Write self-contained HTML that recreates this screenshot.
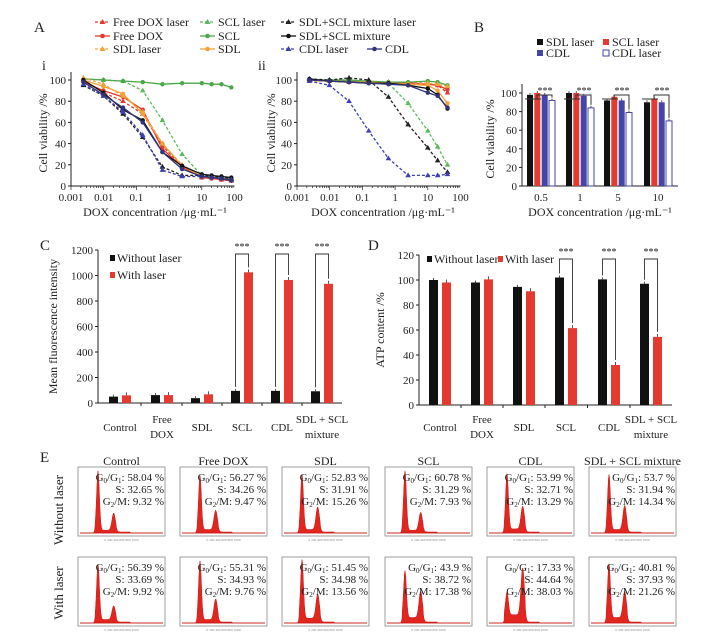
<!DOCTYPE html>
<html><head><meta charset="utf-8">
<style>
html,body{margin:0;padding:0;background:#fff;}
svg{display:block;font-family:"Liberation Serif",serif;}
</style></head>
<body>
<svg id="fig" width="708" height="644" viewBox="0 0 708 644" xmlns="http://www.w3.org/2000/svg"></svg>
<script>
// ---------- Panel A data ----------
const concI = [0.0024,0.0098,0.039,0.156,0.625,2.5,10,20,40,80];
const concII = [0.0024,0.0098,0.039,0.156,0.625,2.5,10,20,40];
const seriesNames = ["Free DOX laser","Free DOX","SCL laser","SCL","SDL laser","SDL","SDL+SCL mixture laser","SDL+SCL mixture","CDL laser","CDL"];
const seriesColors = ["#e53a30","#e53a30","#5cb85c","#4aa84a","#f2a23a","#f2a23a","#222","#111","#3f3fb5","#33337a"];
const seriesDashed = [true,false,true,false,true,false,true,false,true,false];
const viabI_freeDoxLaser = [100,88,80,68,38,18,8,8,6,5];
const viabI_freeDox = [98,90,84,72,35,18,8,7,6,5];
const viabI_sclLaser = [101,100,99,90,62,30,10,9,8,7];
const viabI_scl = [101,100,99,98,96,97,97,96,96,93];
const viabI_sdlLaser = [102,96,85,70,40,20,9,8,7,6];
const viabI_sdl = [100,94,87,68,40,19,9,8,7,6];
const viabI_mixLaser = [95,85,68,46,18,10,10,9,8,7];
const viabI_mix = [100,88,72,62,32,19,11,10,9,8];
const viabI_cdlLaser = [96,85,70,48,15,9,9,8,7,6];
const viabI_cdl = [98,86,74,60,32,16,9,8,7,5];
const viabII_freeDoxLaser = [100,99,98,98,98,97,97,95,88];
const viabII_freeDox = [100,99,99,98,98,97,96,95,91];
const viabII_sclLaser = [101,99,99,98,97,78,52,37,20];
const viabII_scl = [100,100,100,99,98,98,99,98,95];
const viabII_sdlLaser = [99,99,98,98,97,96,97,96,94];
const viabII_sdl = [100,99,98,98,97,96,95,90,78];
const viabII_mixLaser = [101,100,102,100,84,58,36,24,13];
const viabII_mix = [101,99,98,97,97,95,92,86,73];
const viabII_cdlLaser = [99,95,80,52,26,10,10,10,11];
const viabII_cdl = [100,99,98,97,96,95,88,85,74];
const logTicks = [0.001,0.01,0.1,1,10,100];
const logTickLabels = ["0.001","0.01","0.1","1","10","100"];
const viabTicks = [0,20,40,60,80,100];
// ---------- Panel B data ----------
const bCategories = ["0.5","1","5","10"];
const bNames = ["SDL laser","SCL laser","CDL","CDL laser"];
const bSdlLaser = [98,100,92,90];
const bSclLaser = [100,100,96,94];
const bCdl = [98,97,92,90];
const bCdlLaser = [92,84,79,70];
// ---------- Panel C data ----------
const groupLabels = [["Control"],["Free","DOX"],["SDL"],["SCL"],["CDL"],["SDL + SCL","mixture"]];
const cWithout = [50,62,38,95,95,92];
const cWith = [60,62,68,1025,965,935];
const cTicks = [0,200,400,600,800,1000,1200];
const cSig = [3,4,5];
// ---------- Panel D data ----------
const dWithout = [100,98,94.5,102,100.5,97];
const dWith = [98,100.5,91,61.5,32,54.5];
const dTicks = [0,20,40,60,80,100,120];
const dSig = [3,4,5];
// ---------- Panel E data ----------
const eTitles = ["Control","Free DOX","SDL","SCL","CDL","SDL + SCL mixture"];
const eG1Row1 = ["58.04","56.27","52.83","60.78","53.99","53.7"];
const eSRow1 = ["32.65","34.26","31.91","31.29","32.71","31.94"];
const eG2Row1 = ["9.32","9.47","15.26","7.93","13.29","14.34"];
const eG1Row2 = ["56.39","55.31","51.45","43.9","17.33","40.81"];
const eSRow2 = ["33.69","34.93","34.98","38.72","44.64","37.93"];
const eG2Row2 = ["9.92","9.76","13.56","17.38","38.03","21.26"];
const eG1PeakRow1 = [0.86,0.78,0.80,0.86,0.80,0.80];
const eG2PeakRow1 = [0.25,0.28,0.33,0.26,0.33,0.35];
const eG1PeakRow2 = [0.80,0.85,0.85,0.68,0.33,0.78];
const eG2PeakRow2 = [0.20,0.30,0.35,0.38,0.68,0.38];
const eSLevelRow1 = [0.04,0.05,0.05,0.04,0.06,0.05];
const eSLevelRow2 = [0.05,0.05,0.07,0.08,0.12,0.08];

const NS="http://www.w3.org/2000/svg";
const svg=document.getElementById('fig');
function mk(tag,attrs,parent){const e=document.createElementNS(NS,tag);for(const k in attrs)e.setAttribute(k,attrs[k]);(parent||svg).appendChild(e);return e;}
function txt(x,y,s,size,anchor,parent,extra){const e=mk('text',Object.assign({x:x,y:y,'font-size':size,'text-anchor':anchor||'start',fill:'#222'},extra||{}),parent);e.textContent=s;return e;}

// Panel letters
[["A",34,32],["B",474,32],["C",40,250],["D",368,250],["E",40,462],["i",42,70],["ii",258,70]].forEach(p=>{
  const t=txt(p[1],p[2],p[0],p[0].length<=2&&p[0]==p[0].toUpperCase()?15:14,'start');
  
  
});

// ---------- Panel A ----------
const legendA=[[95,26,0],[200,26,2],[281,26,6],[95,40,1],[200,40,3],[281,40,7],[95,53,4],[200,53,5],[281,53,8],[367,53,9]];
legendA.forEach(l=>{
  const i=l[2];
  const g=mk('g',{});
  
  
  mk('line',{x1:l[0],y1:l[1]-4,x2:l[0]+15,y2:l[1]-4,stroke:seriesColors[i],'stroke-width':1.3,'stroke-dasharray':seriesDashed[i]?'3,2':'none'},g);
  if(seriesDashed[i]) mk('path',{d:`M${l[0]+7.5},${l[1]-7} l3,5 h-6z`,fill:seriesColors[i]},g);
  else mk('circle',{cx:l[0]+7.5,cy:l[1]-4,r:2.3,fill:seriesColors[i]},g);
  txt(l[0]+18,l[1],seriesNames[i],12,'start',g);
});

function panelA(x0,name,conc,sets,xLabelX,yLabelX){
  const g=mk('g',{});
  
  
  const dec=32.7;
  const xs=v=>x0+(Math.log10(v)+3)*dec;
  const ys=v=>186-v*1.06;
  const right=xs(100);
  mk('line',{x1:x0,y1:186,x2:right,y2:186,stroke:'#222','stroke-width':1},g);
  mk('line',{x1:x0,y1:186,x2:x0,y2:72,stroke:'#222','stroke-width':1},g);
  for(let d=-3;d<2;d++){for(let m=1;m<10;m++){const xx=xs(Math.pow(10,d)*m);mk('line',{x1:xx,y1:186,x2:xx,y2:m==1?190:188,stroke:'#222','stroke-width':0.7},g);}}
  logTicks.forEach((t,i)=>{txt(xs(t),201,logTickLabels[i],11,'middle',g);});
  viabTicks.forEach(t=>{mk('line',{x1:x0-3,y1:ys(t),x2:x0,y2:ys(t),stroke:'#222'},g);txt(x0-5,ys(t)+4,String(t),11,'end',g);});
  const yl=txt(yLabelX,133,'Cell viability /%',12,'middle',g,{transform:`rotate(-90 ${yLabelX} 133)`});
  
  
  const xl=txt(xLabelX,216,'DOX concentration /μg·mL⁻¹',12,'middle',g);
  
  
  sets.forEach((vals,i)=>{
    const pts=vals.map((v,j)=>[xs(conc[j]),ys(v)]);
    const s=mk('path',{d:'M'+pts.map(p=>p[0].toFixed(1)+','+p[1].toFixed(1)).join(' L'),fill:'none',stroke:seriesColors[i],'stroke-width':1.3,'stroke-dasharray':seriesDashed[i]?'3,2':'none'},g);
    
    
    pts.forEach(p=>{
      if(seriesDashed[i]) mk('path',{d:`M${p[0]},${p[1]-3} l2.8,4.8 h-5.6z`,fill:seriesColors[i]},g);
      else mk('circle',{cx:p[0],cy:p[1],r:2.2,fill:seriesColors[i]},g);
    });
  });
}
panelA(71,'chart-a-i',concI,[viabI_freeDoxLaser,viabI_freeDox,viabI_sclLaser,viabI_scl,viabI_sdlLaser,viabI_sdl,viabI_mixLaser,viabI_mix,viabI_cdlLaser,viabI_cdl],155,47);
panelA(297,'chart-a-ii',concII,[viabII_freeDoxLaser,viabII_freeDox,viabII_sclLaser,viabII_scl,viabII_sdlLaser,viabII_sdl,viabII_mixLaser,viabII_mix,viabII_cdlLaser,viabII_cdl],383,275);

// ---------- Panel B ----------
(function(){
  const g=mk('g',{});
  
  
  const x0=522,x1=678,ys=v=>186-v*0.93;
  const centers=[541,580,618,658];
  const cols=["#111","#e53a30","#4545a8","#fff"];
  const leg=[[537,46,0],[603,46,1],[537,57,2],[603,57,3]];
  leg.forEach(l=>{
    const e=mk('rect',{x:l[0],y:l[1]-7,width:6,height:6,fill:cols[l[2]],stroke:l[2]==3?'#4545a8':'none','stroke-width':1},g);
    
    
    txt(l[0]+9,l[1],bNames[l[2]],12,'start',g);
  });
  mk('line',{x1:x0,y1:186,x2:x1,y2:186,stroke:'#222'},g);
  mk('line',{x1:x0,y1:186,x2:x0,y2:84,stroke:'#222'},g);
  viabTicks.forEach(t=>{mk('line',{x1:x0-3,y1:ys(t),x2:x0,y2:ys(t),stroke:'#222'},g);txt(x0-5,ys(t)+4,String(t),11,'end',g);});
  const sets=[bSdlLaser,bSclLaser,bCdl,bCdlLaser];
  const offs=[-11,-3.7,3.7,11];
  bCategories.forEach((c,i)=>{
    const cx=centers[i];
    sets.forEach((s,k)=>{
      const b=mk('rect',{x:cx+offs[k]-3,y:ys(s[i]),width:6,height:186-ys(s[i]),fill:cols[k],stroke:k==3?'#4545a8':'none','stroke-width':1},g);
      
      
      mk('line',{x1:cx+offs[k],y1:ys(s[i])-2,x2:cx+offs[k],y2:ys(s[i]),stroke:'#555'},g);
    });
    mk('path',{d:`M${cx-16},${ys(100)+6} H${cx}`,stroke:'#333',fill:'none'},g);
    mk('path',{d:`M${cx-4},${ys(100)+6} V${ys(100)+2} H${cx+11} V${ys(bCdlLaser[i])-3}`,stroke:'#333',fill:'none'},g);
    txt(cx+4,ys(100)+1,'***',10,'middle',g);
    txt(cx,201,c,11,'middle',g);
  });
  const yl=txt(494,139,'Cell viability /%',12,'middle',g,{transform:'rotate(-90 494 139)'});
  
  
  const xl=txt(600,216,'DOX concentration /μg·mL⁻¹',12,'middle',g);
  
  
})();

// ---------- Panels C & D ----------
function barPanel(name,x0,x1,yTop,yBot,maxV,ticks,without,withL,sig,centers,legendPos,yTitle,yTitleX){
  const g=mk('g',{});
  
  
  const ys=v=>yBot-v/maxV*(yBot-yTop);
  mk('line',{x1:x0,y1:yBot,x2:x1,y2:yBot,stroke:'#222'},g);
  mk('line',{x1:x0,y1:yBot,x2:x0,y2:yTop,stroke:'#222'},g);
  ticks.forEach(t=>{mk('line',{x1:x0-3,y1:ys(t),x2:x0,y2:ys(t),stroke:'#222'},g);txt(x0-5,ys(t)+4,String(t),11,'end',g);});
  for(let i=0;i<centers.length-1;i++){const sx=(centers[i]+centers[i+1])/2;mk('line',{x1:sx,y1:yBot,x2:sx,y2:yBot+3,stroke:'#222'},g);}
  centers.forEach((cx,i)=>{
    const bw=mk('rect',{x:cx-11,y:ys(without[i]),width:9,height:yBot-ys(without[i]),fill:'#111'},g);
    
    
    const br=mk('rect',{x:cx+2,y:ys(withL[i]),width:9,height:yBot-ys(withL[i]),fill:'#e53a30'},g);
    
    
    mk('line',{x1:cx+6.5,y1:ys(withL[i])-3,x2:cx+6.5,y2:ys(withL[i]),stroke:'#555'},g);
    mk('line',{x1:cx-6.5,y1:ys(without[i])-2,x2:cx-6.5,y2:ys(without[i]),stroke:'#555'},g);
    const lab=groupLabels[i];
    if(lab.length==1) txt(cx,431,lab[0],11,'middle',g);
    else {txt(cx,423,lab[0],11,'middle',g);txt(cx,438,lab[1],11,'middle',g);}
  });
  sig.forEach(i=>{
    const cx=centers[i];
    mk('path',{d:`M${cx-6.5},${ys(without[i])-4} V${yTop+4} H${cx+6.5} V${ys(withL[i])-5}`,stroke:'#333',fill:'none','stroke-width':0.9},g);
    txt(cx,yTop,'***',10,'middle',g);
  });
  const L=legendPos;
  const s1=mk('rect',{x:L[0],y:L[1]-7,width:5,height:6,fill:'#111'},g);
  
  
  txt(L[0]+7,L[1],'Without laser',12,'start',g);
  const s2=mk('rect',{x:L[2],y:L[3]-7,width:5,height:6,fill:'#e53a30'},g);
  
  
  txt(L[2]+7,L[3],'With laser',12,'start',g);
  const my=(yTop+yBot)/2;
  const yl=txt(yTitleX,my,yTitle,12,'middle',g,{transform:`rotate(-90 ${yTitleX} ${my})`});
  
  
}
barPanel('chart-c',98,342,250,403,1200,cTicks,cWithout,cWith,cSig,[120,162,202,242,282,322],[110,262,110,279],'Mean fluorescence intensity',57);
barPanel('chart-d',419,672,255,405,120,dTicks,dWithout,dWith,dSig,[440,482,524,566,609,651],[427,263,498,263],'ATP content /%',384);

// ---------- Panel E ----------
(function(){
  const g=mk('g',{});
  
  
  const bx=[78,180,282,385,487,589],bw=87,bh=69;
  const rows=[[467,eG1Row1,eSRow1,eG2Row1,eG1PeakRow1,eG2PeakRow1,eSLevelRow1],[557,eG1Row2,eSRow2,eG2Row2,eG1PeakRow2,eG2PeakRow2,eSLevelRow2]];
  eTitles.forEach((t,i)=>txt(bx[i]+bw/2,465,t,12,'middle',g));
  const r1=txt(63,510,'Without laser',13,'middle',g,{transform:'rotate(-90 63 510)'});
  
  
  const r2=txt(63,593,'With laser',13,'middle',g,{transform:'rotate(-90 63 593)'});
  
  
  rows.forEach((r,ri)=>{
    const top=r[0];
    bx.forEach((x,i)=>{
      const box=mk('rect',{x:x,y:top,width:bw,height:bh,fill:'#fff',stroke:'#888','stroke-width':0.8},g);
      
      
      const base=top+bh-3;
      const g1x=x+bw*0.23,g2x=x+bw*0.41;
      let d=`M${x+2},${base}`;
      for(let px=x+2;px<=x+bw-2;px+=0.5){
        const f=(px-x)/bw;
        let h=0;
        h+=r[4][i]*Math.exp(-Math.pow((px-g1x)/2.0,2));
        h+=r[5][i]*Math.exp(-Math.pow((px-g2x)/2.4,2));
        if(f>0.2&&f<0.44) h+=r[6][i];
        if(f>0.44&&f<0.6) h+=0.015;
        d+=` L${px.toFixed(1)},${(base-h*bh).toFixed(1)}`;
      }
      d+=` L${x+bw-2},${base} Z`;
      mk('path',{d:d,fill:'#e0261e',stroke:'#c41a14','stroke-width':0.5},g);
      mk('line',{x1:x+2,y1:base,x2:x+bw-2,y2:base,stroke:'#c41a14','stroke-width':0.8},g);
      const tx=x+bw-1;
      const a=txt(tx,top+14,'',11,'end',g);
      a.innerHTML=`G<tspan font-size="7" dy="2">0</tspan><tspan dy="-2">/G</tspan><tspan font-size="7" dy="2">1</tspan><tspan dy="-2">: ${r[1][i]} %</tspan>`;
      txt(tx,top+26,`S: ${r[2][i]} %`,11,'end',g);
      const c=txt(tx,top+38,'',11,'end',g);
      c.innerHTML=`G<tspan font-size="7" dy="2">2</tspan><tspan dy="-2">/M: ${r[3][i]} %</tspan>`;
      txt(x+bw/2,top+bh+5,'0    200   400   600   800  1000',3.5,'middle',g,{fill:'#888'});
    });
  });
})();
</script>
</body></html>
